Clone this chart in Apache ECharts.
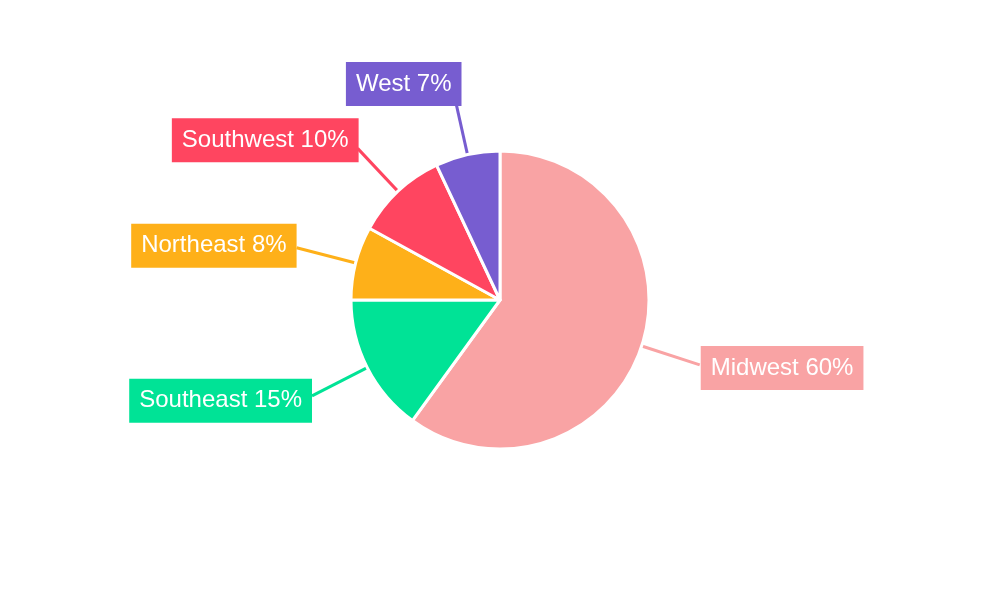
<!DOCTYPE html>
<html>
<head>
<meta charset="utf-8">
<script src="https://cdn.jsdelivr.net/npm/echarts@6/dist/echarts.min.js"></script>
<style>html,body{margin:0;padding:0;background:#fff}#c{width:1000px;height:600px}</style>
</head>
<body>
<div id="c"></div>
<script>
const categories = ['Midwest', 'Southeast', 'Northeast', 'Southwest', 'West'];
const values = [60, 15, 8, 10, 7];
const colors = ['#F9A3A4', '#00E396', '#FEB019', '#FF4560', '#775DD0'];

// label layout tweaks (layout only)
const lineLen = [61, 62, 61, 59, 55];
const nudge = [[-4, 3], [5, 5], [5, -2], [6, -8], [11, -17]];

const chart = echarts.init(document.getElementById('c'));
chart.setOption({
  animation: false,
  series: [{
    type: 'pie',
    center: [500, 300],
    radius: 149,
    startAngle: 90,
    clockwise: true,
    data: categories.map((n, i) => ({
      name: n, value: values[i],
      itemStyle: { color: colors[i] },
      label: { backgroundColor: colors[i] },
      labelLine: { length: lineLen[i], length2: 0 }
    })),
    itemStyle: { borderColor: '#fff', borderWidth: 3 },
    label: {
      show: true,
      formatter: '{b} {c}%',
      color: '#fff',
      fontFamily: 'Liberation Sans, Arial, sans-serif',
      fontSize: 24,
      lineHeight: 24,
      padding: [10, 10]
    },
    labelLine: { show: true, length: 55, length2: 0, lineStyle: { width: 3 } },
    labelLayout: function (p) {
      return { dx: nudge[p.dataIndex][0], dy: nudge[p.dataIndex][1] };
    }
  }]
});
</script>
</body>
</html>
